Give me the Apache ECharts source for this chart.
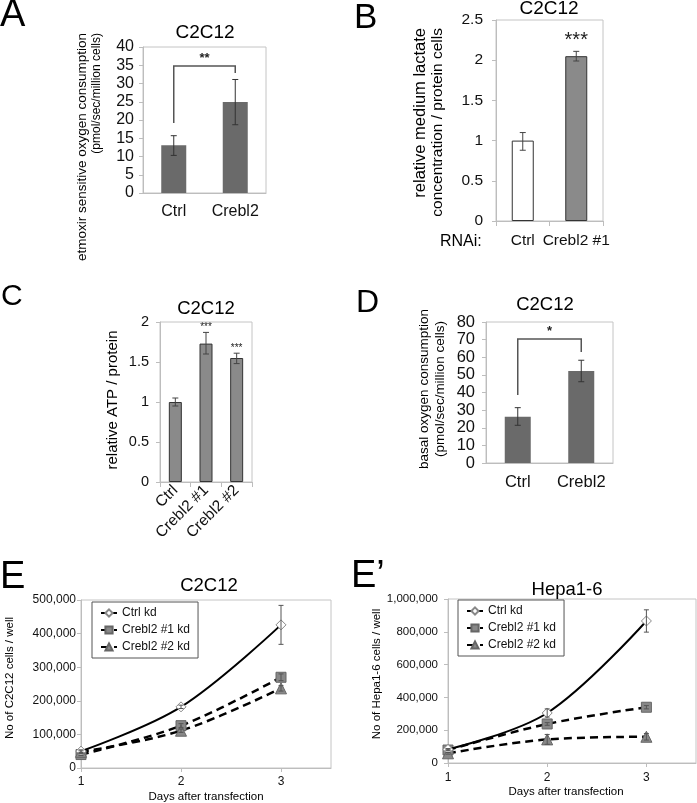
<!DOCTYPE html>
<html><head><meta charset="utf-8">
<script src="https://cdn.jsdelivr.net/npm/echarts@6/dist/echarts.min.js"></script>
<style>html,body{margin:0;padding:0;background:#fff}#c{width:697px;height:803px}</style>
</head><body><div id="c"></div>
<script>
// ---------- Panel A ----------
const catsA = ['Ctrl', 'Crebl2'];
const valsA = [13.1, 24.9];
const errLoA = [10.3, 18.7];
const errHiA = [15.7, 31.1];
const bracketA = [34.8, 19.2, 32.9];   // bracket level, left leg end, right leg end
const sigA = '**';
// ---------- Panel B ----------
const catsB = ['Ctrl', 'Crebl2 #1'];
const valsB = [1.0, 2.05];
const errLoB = [0.88, 1.99];
const errHiB = [1.10, 2.11];
const sigB = ['', '***'];
// ---------- Panel C ----------
const catsC = ['Ctrl', 'Crebl2 #1', 'Crebl2 #2'];
const valsC = [1.0, 1.73, 1.55];
const errLoC = [0.95, 1.60, 1.48];
const errHiC = [1.05, 1.87, 1.61];
const sigC = ['', '***', '***'];
// ---------- Panel D ----------
const catsD = ['Ctrl', 'Crebl2'];
const valsD = [26.3, 52.2];
const errLoD = [21.4, 46.1];
const errHiD = [31.4, 58.3];
const bracketD = [70.4, 38.6, 63.0];
const sigD = '*';
// ---------- Panel E (C2C12) ----------
const days = [1, 2, 3];
const lineNames = ['Ctrl kd', 'Crebl2 #1 kd', 'Crebl2 #2 kd'];
const eCtrl = [50000, 182000, 426000];
const eCtrlSd = [4000, 5000, 58000];
const eKd1 = [40000, 126000, 270000];
const eKd1Sd = [3000, 6000, 10000];
const eKd2 = [48000, 111000, 237000];
const eKd2Sd = [3000, 5000, 8000];
// ---------- Panel E' (Hepa1-6) ----------
const hCtrl = [83000, 305000, 866000];
const hCtrlSd = [5000, 25000, 68000];
const hKd1 = [79000, 238000, 340000];
const hKd1Sd = [5000, 8000, 10000];
const hKd2 = [59000, 144000, 160000];
const hKd2Sd = [5000, 30000, 20000];

const FONT = '"Liberation Sans", Arial, Helvetica, sans-serif';
const AX = '#bdbdbd';
const TXT = '#111';

const chart = echarts.init(document.getElementById('c'), null, {renderer: 'canvas'});

function grid(l, t, w, h) {
  return {left: l, top: t, width: w, height: h, show: true, borderColor: '#c4c4c4', borderWidth: 1,
          backgroundColor: 'transparent', containLabel: false, outerBoundsMode: 'none'};
}
function catX(gi, data, fs, margin, ticks, rotate) {
  return {gridIndex: gi, type: 'category', data: data,
    axisLine: {show: true, lineStyle: {color: AX, width: 1}},
    axisTick: {show: ticks, length: 5, lineStyle: {color: AX}},
    axisLabel: {fontSize: fs, margin: margin, color: TXT, fontFamily: FONT, interval: 0, rotate: rotate || 0, hideOverlap: false},
    splitLine: {show: false}};
}
function valY(gi, max, interval, fs, margin, fmt) {
  return {gridIndex: gi, type: 'value', min: 0, max: max, interval: interval,
    axisLine: {show: true, lineStyle: {color: AX, width: 1}},
    axisTick: {show: true, length: 4, lineStyle: {color: AX}},
    axisLabel: {fontSize: fs, margin: margin, color: TXT, fontFamily: FONT, formatter: fmt},
    splitLine: {show: false}};
}
function dayX(gi, fs, margin) {
  return {gridIndex: gi, type: 'value', min: 1, max: 3.5, interval: 1,
    axisLine: {show: true, onZero: false, lineStyle: {color: AX, width: 1}},
    axisTick: {show: true, length: 4, lineStyle: {color: AX}, customValues: days},
    axisLabel: {fontSize: fs, margin: margin, color: TXT, fontFamily: FONT, customValues: days,
      formatter: v => (Number.isInteger(v) ? String(v) : '')},
    splitLine: {show: false}};
}
const comma = v => Math.round(v).toString().replace(/\B(?=(\d{3})+(?!\d))/g, ',');

function errBars(ax, xs, lo, hi, cap, color) {
  return {type: 'custom', xAxisIndex: ax, yAxisIndex: ax, z: 8, silent: true,
    encode: {x: 0, y: [1, 2]},
    data: xs.map((x, i) => [x, lo[i], hi[i]]),
    renderItem: function (params, api) {
      const a = api.coord([api.value(0), api.value(1)]);
      const b = api.coord([api.value(0), api.value(2)]);
      const st = {stroke: color, lineWidth: 1};
      return {type: 'group', children: [
        {type: 'line', shape: {x1: a[0], y1: a[1], x2: b[0], y2: b[1]}, style: st},
        {type: 'line', shape: {x1: a[0] - cap, y1: a[1], x2: a[0] + cap, y2: a[1]}, style: st},
        {type: 'line', shape: {x1: b[0] - cap, y1: b[1], x2: b[0] + cap, y2: b[1]}, style: st}
      ]};
    }};
}
function sdBars(ax, ys, sd, cap) {
  return errBars(ax, days, ys.map((y, i) => y - sd[i]), ys.map((y, i) => y + sd[i]), cap, '#555');
}
function stars(ax, hi, sig, gap, fs) {
  return {type: 'custom', xAxisIndex: ax, yAxisIndex: ax, z: 9, silent: true,
    encode: {x: 0, y: 1},
    data: hi.map((h, i) => [i, h]),
    renderItem: function (params, api) {
      const p = api.coord([api.value(0), api.value(1)]);
      return {type: 'text', x: p[0], y: p[1] - gap,
        style: {text: sig[params.dataIndex], fontSize: fs, fontFamily: FONT, fill: '#222',
                align: 'center', verticalAlign: 'bottom', textAlign: 'center', textVerticalAlign: 'bottom'}};
    }};
}
function bracket(ax, b, sig, fs) {
  return {type: 'custom', xAxisIndex: ax, yAxisIndex: ax, z: 9, silent: true,
    encode: {x: [0, 1], y: [2, 3, 4]},
    data: [[0, 1, b[0], b[1], b[2]]],
    renderItem: function (params, api) {
      const l0 = api.coord([api.value(0), api.value(3)]);
      const l1 = api.coord([api.value(0), api.value(2)]);
      const r1 = api.coord([api.value(1), api.value(2)]);
      const r0 = api.coord([api.value(1), api.value(4)]);
      return {type: 'group', children: [
        {type: 'polyline', shape: {points: [l0, l1, r1, r0]}, style: {stroke: '#555', lineWidth: 1.5, fill: null}},
        {type: 'text', x: (l1[0] + r1[0]) / 2, y: l1[1] - 1,
          style: {text: sig, fontSize: fs, fontWeight: 'bold', fontFamily: FONT, fill: '#222',
                  align: 'center', verticalAlign: 'bottom', textAlign: 'center', textVerticalAlign: 'bottom'}}
      ]};
    }};
}
function lineSeries(ax, name, ys, solid, symbol, fill, border) {
  return {type: 'line', name: name, xAxisIndex: ax, yAxisIndex: ax, z: solid ? 6 : 5,
    data: days.map((d, i) => [d, ys[i]]), smooth: 0.35,
    symbol: symbol, symbolSize: symbol === 'triangle' ? 11 : 10,
    lineStyle: {color: '#000', width: solid ? 2 : 2.5, type: solid ? 'solid' : [8, 5]},
    itemStyle: {color: fill, borderColor: border, borderWidth: 1},
    emphasis: {disabled: true}};
}
function text(t, x, y, fs, opts) {
  opts = opts || {};
  return {type: 'text', x: x, y: y, rotation: opts.rot || 0, silent: true,
    style: {text: t, fontSize: fs, fontFamily: FONT, fill: opts.color || '#000', fontWeight: opts.weight || 'normal',
            align: opts.align || 'center', verticalAlign: opts.valign || 'middle',
            textAlign: opts.align || 'center', textVerticalAlign: opts.valign || 'middle'}};
}
const R = Math.PI / 2;

const barGray = '#6a6a6a';
const option = {
  backgroundColor: '#fff',
  animation: false,
  grid: [
    grid(143, 47, 123, 146),
    grid(496, 20, 107, 201),
    grid(160, 322, 92, 160),
    grid(486, 322, 127, 141),
    grid(81, 600, 250, 168),
    grid(448, 599, 248, 164)
  ],
  xAxis: [
    catX(0, catsA, 16, 11, false),
    catX(1, catsB, 15.5, 12, true),
    catX(2, catsC, 15.5, 6, true, 45),
    catX(3, catsD, 16.5, 11, false),
    dayX(4, 12, 8),
    dayX(5, 12, 9)
  ],
  yAxis: [
    valY(0, 40, 5, 16, 9),
    valY(1, 2.5, 0.5, 15.5, 13),
    valY(2, 2, 0.5, 14.5, 11),
    valY(3, 80, 10, 16.5, 11),
    valY(4, 500000, 100000, 12, 5, comma),
    valY(5, 1000000, 200000, 11.5, 10, comma)
  ],
  legend: [
    {left: 92, top: 602, orient: 'vertical', data: lineNames, itemWidth: 16, itemHeight: 9, itemGap: 5,
     padding: [5, 8, 5, 8], borderColor: '#555', borderWidth: 1, backgroundColor: '#fff',
     textStyle: {fontSize: 12, fontFamily: FONT, color: TXT}, selectedMode: false},
    {left: 458, top: 600, orient: 'vertical', data: lineNames, itemWidth: 16, itemHeight: 9, itemGap: 5,
     padding: [5, 8, 5, 8], borderColor: '#555', borderWidth: 1, backgroundColor: '#fff',
     textStyle: {fontSize: 12, fontFamily: FONT, color: TXT}, selectedMode: false}
  ],
  series: [
    {type: 'bar', xAxisIndex: 0, yAxisIndex: 0, data: valsA, barWidth: 25, itemStyle: {color: barGray}, silent: true},
    errBars(0, [0, 1], errLoA, errHiA, 3, '#333'),
    bracket(0, bracketA, sigA, 13),
    {type: 'bar', xAxisIndex: 1, yAxisIndex: 1, barWidth: 22, silent: true,
     data: valsB.map((v, i) => ({value: v, itemStyle: {color: i === 0 ? '#fff' : '#8a8a8a', borderColor: '#333', borderWidth: 1}}))},
    errBars(1, [0, 1], errLoB, errHiB, 3, '#444'),
    stars(1, errHiB, sigB, 1, 20),
    {type: 'bar', xAxisIndex: 2, yAxisIndex: 2, data: valsC, barWidth: 13, silent: true,
     itemStyle: {color: '#8a8a8a', borderColor: '#333', borderWidth: 1}},
    errBars(2, [0, 1, 2], errLoC, errHiC, 3, '#444'),
    stars(2, errHiC, sigC, 0, 10),
    {type: 'bar', xAxisIndex: 3, yAxisIndex: 3, data: valsD, barWidth: 26, itemStyle: {color: barGray}, silent: true},
    errBars(3, [0, 1], errLoD, errHiD, 3, '#333'),
    bracket(3, bracketD, sigD, 13),
    lineSeries(4, lineNames[0], eCtrl, true, 'diamond', '#fff', '#888'),
    lineSeries(4, lineNames[1], eKd1, false, 'rect', '#888', '#666'),
    lineSeries(4, lineNames[2], eKd2, false, 'triangle', '#888', '#666'),
    sdBars(4, eCtrl, eCtrlSd, 2.5),
    sdBars(4, eKd1, eKd1Sd, 2.5),
    sdBars(4, eKd2, eKd2Sd, 2.5),
    lineSeries(5, lineNames[0], hCtrl, true, 'diamond', '#fff', '#888'),
    lineSeries(5, lineNames[1], hKd1, false, 'rect', '#888', '#666'),
    lineSeries(5, lineNames[2], hKd2, false, 'triangle', '#888', '#666'),
    sdBars(5, hCtrl, hCtrlSd, 2.5),
    sdBars(5, hKd1, hKd1Sd, 2.5),
    sdBars(5, hKd2, hKd2Sd, 2.5)
  ],
  graphic: [
    // panel letters
    text('A', 0, 16, 38, {align: 'left'}),
    text('B', 354, 18, 35, {align: 'left'}),
    text('C', 1, 297, 30, {align: 'left'}),
    text('D', 356, 303, 32, {align: 'left'}),
    text('E', 0, 578, 38, {align: 'left'}),
    text('E\u2019', 351, 577, 38, {align: 'left'}),
    // titles
    text('C2C12', 205, 33, 19),
    text('C2C12', 549, 9, 19),
    text('C2C12', 206, 309, 18.5),
    text('C2C12', 545, 305, 18.5),
    text('C2C12', 209, 586, 18.5),
    text('Hepa1-6', 567, 590, 18.5),
    // y titles
    text('etmoxir sensitive oxygen consumption', 82, 33, 13.5, {rot: R, align: 'right'}),
    text('(pmol/sec/million cells)', 97, 33, 12, {rot: R, align: 'right'}),
    text('relative medium lactate', 420, 28, 16.5, {rot: R, align: 'right'}),
    text('concentration / protein cells', 438, 28, 15.5, {rot: R, align: 'right'}),
    text('relative ATP / protein', 113, 400, 15, {rot: R}),
    text('basal oxygen consumption', 424, 389, 13.5, {rot: R}),
    text('(pmol/sec/million cells)', 440, 389, 13.5, {rot: R}),
    text('No of C2C12 cells / well', 10, 678, 11.5, {rot: R}),
    text('No of Hepa1-6 cells / well', 377, 674, 11.5, {rot: R}),
    // misc
    text('RNAi:', 440, 242, 16, {align: 'left'}),
    text('Days after transfection', 206, 797, 11.5),
    text('Days after transfection', 566, 792, 11.5)
  ]
};
chart.setOption(option);
</script></body></html>
